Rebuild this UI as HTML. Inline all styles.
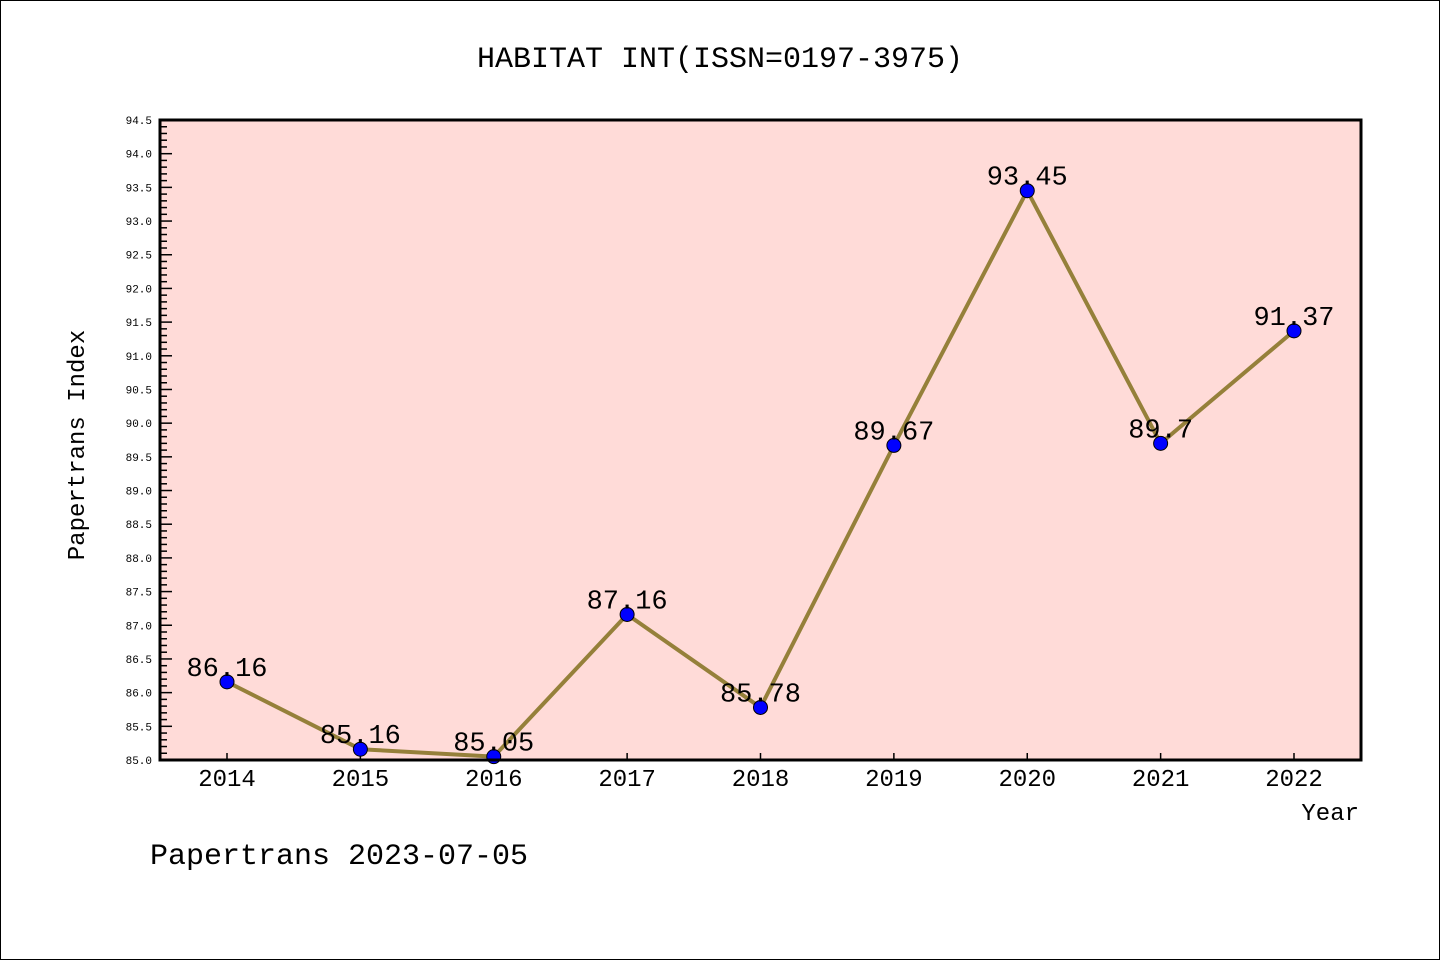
<!DOCTYPE html>
<html><head><meta charset="utf-8"><style>
html,body{margin:0;padding:0;background:#fff}
svg{display:block}
text{font-family:"Liberation Mono","DejaVu Sans Mono",monospace}
</style></head><body>
<svg id="chart" width="1440" height="960" xmlns="http://www.w3.org/2000/svg">
<rect x="0.5" y="0.5" width="1439" height="959" fill="#fff" stroke="#000" stroke-width="1"/>
<text x="720" y="67" text-anchor="middle" font-size="30">HABITAT INT(ISSN=0197-3975)</text>
<rect x="160" y="120" width="1201" height="640" fill="#ffdbd8"/>
<g id="yaxis"></g>
<g id="xaxis"></g>
<g id="series"></g>
<rect x="160" y="120" width="1201" height="640" fill="none" stroke="#000" stroke-width="3"/>
<text transform="translate(84,445) rotate(-90)" text-anchor="middle" font-size="24">Papertrans Index</text>
<text x="1359" y="820" text-anchor="end" font-size="24">Year</text>
<text x="150" y="864" font-size="30">Papertrans 2023-07-05</text>
</svg>
<script>
const years = ["2014","2015","2016","2017","2018","2019","2020","2021","2022"];
const values = [86.16,85.16,85.05,87.16,85.78,89.67,93.45,89.7,91.37];
const valueLabels = ["86.16","85.16","85.05","87.16","85.78","89.67","93.45","89.7","91.37"];
const yMin = 85.0, yMax = 94.5;
const NS="http://www.w3.org/2000/svg";
function X(i){return 227 + i*(1294-227)/(years.length-1);}
function Y(v){return 760 - (v-yMin)/(yMax-yMin)*640;}
function mk(tag,attrs,parent){const e=document.createElementNS(NS,tag);for(const k in attrs)e.setAttribute(k,attrs[k]);parent.appendChild(e);return e;}
const ya=document.getElementById('yaxis'),xa=document.getElementById('xaxis'),se=document.getElementById('series');
for(let k=0;k<=95;k++){
  const v=yMin+k*0.1, y=Y(v), major=k%5===0;
  const t=mk('line',{x1:160,x2:160+(major?12:7),y1:y,y2:y,stroke:'#000','stroke-width':1.5},ya);
  
  
  if(major){
    const l=mk('text',{x:152,y:y+4,'text-anchor':'end','font-size':11,'font-family':'DejaVu Sans, sans-serif'},ya);
    l.textContent=v.toFixed(1);
    
    
  }
}
years.forEach((yr,i)=>{
  const t=mk('line',{x1:X(i),x2:X(i),y1:760,y2:753,stroke:'#000','stroke-width':1.5},xa);
  
  
  const l=mk('text',{x:X(i),y:786,'text-anchor':'middle','font-size':24,'font-family':'Liberation Sans, sans-serif'},xa);
  l.textContent=yr;
  
  
});
const pts=values.map((v,i)=>X(i)+','+Y(v)).join(' ');
const pl=mk('polyline',{points:pts,fill:'none',stroke:'#95803a','stroke-width':4,'stroke-linejoin':'round'},se);


values.forEach((v,i)=>{
  const c=mk('circle',{cx:X(i),cy:Y(v),r:7,fill:'#0000ff',stroke:'#000','stroke-width':1},se);
  
  
  const l=mk('text',{x:X(i),y:Y(v)-6,'text-anchor':'middle','font-size':27,'font-family':'Liberation Sans, sans-serif'},se);
  l.textContent=valueLabels[i];
  
  
});
</script>
</body></html>
